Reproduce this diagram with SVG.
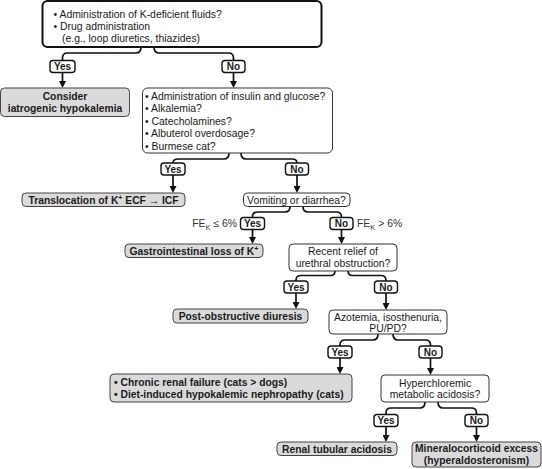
<svg xmlns="http://www.w3.org/2000/svg" width="542" height="469" viewBox="0 0 542 469">
<defs>
<style>
text{font-family:"Liberation Sans",Arial,Helvetica,sans-serif;font-size:10.4px;fill:#1a1a1a}
.b{font-weight:bold;font-size:10.3px}
.c{text-anchor:middle}
.dec{fill:#fff;stroke:#333;stroke-width:1}
.top{fill:#fff;stroke:#111;stroke-width:2}
.out{fill:#dadada;stroke:#444;stroke-width:1}
.lab{fill:#fff;stroke:#111;stroke-width:1.4}
.lt{font-weight:bold;font-size:10px;text-anchor:middle}
.br{fill:none;stroke:#111;stroke-width:1.7}
.ar{fill:none;stroke:#111;stroke-width:1.7;marker-end:url(#ah)}
</style>
<marker id="ah" viewBox="0 0 10 10" refX="6" refY="5" markerWidth="7" markerHeight="7" markerUnits="userSpaceOnUse" orient="auto">
<path d="M0,0 L10,5 L0,10 z" fill="#111"/>
</marker>
</defs>
<rect width="542" height="469" fill="#fff"/>

<g id="connectors">
<path class="br" d="M141,47 Q141,53 136,53 L67.5,53 Q62.5,53 62.5,58 L62.5,61.5"/>
<path class="br" d="M154,47 Q154,53 159,53 L228.5,53 Q233.5,53 233.5,58 L233.5,61.5"/>
<path class="ar" d="M62.5,72.5 L62.5,85.2"/>
<path class="ar" d="M233.5,72.5 L233.5,85.2"/>

<path class="br" d="M229,153 Q229,159 224,159 L178,159 Q173,159 173,163 L173,164"/>
<path class="br" d="M241,153 Q241,159 246,159 L292,159 Q297,159 297,163 L297,164"/>
<path class="ar" d="M173,175 L173,190.2"/>
<path class="ar" d="M297,175 L297,190.2"/>

<path class="br" d="M290,206.5 Q290,212 285,212 L257.5,212 Q252.5,212 252.5,217 L252.5,218.5"/>
<path class="br" d="M303,206.5 Q303,212 308,212 L336.5,212 Q341.5,212 341.5,217 L341.5,218.5"/>
<path class="ar" d="M252.5,229.5 L252.5,241.2"/>
<path class="ar" d="M341.5,229.5 L341.5,241.2"/>

<path class="br" d="M335,271 Q335,275.5 330.5,275.5 L301,275.5 Q296,275.5 296,280.5 L296,282"/>
<path class="br" d="M348,271 Q348,275.5 352.5,275.5 L381,275.5 Q386,275.5 386,280.5 L386,282"/>
<path class="ar" d="M296,293 L296,306.2"/>
<path class="ar" d="M386,293 L386,307.2"/>

<path class="br" d="M378,334 Q378,340 373,340 L345,340 Q340,340 340,345 L340,347"/>
<path class="br" d="M393,334 Q393,340 398,340 L425.5,340 Q430.5,340 430.5,345 L430.5,347"/>
<path class="ar" d="M340,358 L340,371.2"/>
<path class="ar" d="M430.5,358 L430.5,372.2"/>

<path class="br" d="M425,402 Q425,408 420,408 L391,408 Q386,408 386,413 L386,415.5"/>
<path class="br" d="M438,402 Q438,408 443,408 L471.5,408 Q476.5,408 476.5,413 L476.5,415.5"/>
<path class="ar" d="M386,426.5 L386,439.2"/>
<path class="ar" d="M476.5,426.5 L476.5,439.2"/>
</g>

<g id="n1">
<rect class="top" x="42.5" y="1" width="279" height="46" rx="5"/>
<text x="53.5" y="17.5">• Administration of K-deficient fluids?</text>
<text x="53.5" y="29.5">• Drug administration</text>
<text x="62" y="41.5">(e.g., loop diuretics, thiazides)</text>
</g>
<g id="y1"><rect class="lab" x="50" y="60.5" width="25" height="12" rx="3"/><text class="lt" x="62.5" y="70">Yes</text></g>
<g id="no1"><rect class="lab" x="222" y="60.5" width="23" height="12" rx="3"/><text class="lt" x="233.5" y="70">No</text></g>

<g id="n_consider">
<rect class="out" x="0.5" y="88" width="129" height="28.5" rx="4"/>
<text class="b c" x="65" y="99.5">Consider</text>
<text class="b c" x="65" y="111.5">iatrogenic hypokalemia</text>
</g>

<g id="n2">
<rect class="dec" x="142.5" y="88" width="190" height="65" rx="5"/>
<text x="145" y="99.5">• Administration of insulin and glucose?</text>
<text x="145" y="112">• Alkalemia?</text>
<text x="145" y="124.5">• Catecholamines?</text>
<text x="145" y="137">• Albuterol overdosage?</text>
<text x="145" y="149.5">• Burmese cat?</text>
</g>
<g id="y2"><rect class="lab" x="161" y="163" width="24" height="12" rx="3"/><text class="lt" x="173" y="172.5">Yes</text></g>
<g id="no2"><rect class="lab" x="285.5" y="163" width="23" height="12" rx="3"/><text class="lt" x="297" y="172.5">No</text></g>

<g id="n_trans">
<rect class="out" x="22" y="193" width="163" height="13.5" rx="4"/>
<text class="b c" x="103.5" y="203.5">Translocation of K<tspan font-size="7" dy="-4">+</tspan><tspan dy="4"> ECF → ICF</tspan></text>
</g>

<g id="n_vomit">
<rect class="dec" x="243.5" y="193" width="106.5" height="13.5" rx="4"/>
<text class="c" x="296.5" y="203.5">Vomiting or diarrhea?</text>
</g>
<g id="y3"><rect class="lab" x="240.5" y="217.5" width="24" height="12" rx="3"/><text class="lt" x="252.5" y="227">Yes</text></g>
<g id="no3"><rect class="lab" x="330" y="217.5" width="23" height="12" rx="3"/><text class="lt" x="341.5" y="227">No</text></g>
<g id="fe1"><text x="237" y="227" style="text-anchor:end;fill:#333">FE<tspan font-size="7.5" dy="2.5">K</tspan><tspan dy="-2.5"> ≤ 6%</tspan></text></g>
<g id="fe2"><text x="357" y="227" style="fill:#333">FE<tspan font-size="7.5" dy="2.5">K</tspan><tspan dy="-2.5"> &gt; 6%</tspan></text></g>

<g id="n_gi">
<rect class="out" x="125" y="244" width="138" height="13.5" rx="4"/>
<text class="b c" x="194" y="254.5">Gastrointestinal loss of K<tspan font-size="7" dy="-4">+</tspan></text>
</g>

<g id="n_recent">
<rect class="dec" x="289" y="244" width="108" height="27" rx="4"/>
<text class="c" x="343" y="255">Recent relief of</text>
<text class="c" x="343" y="267">urethral obstruction?</text>
</g>
<g id="y4"><rect class="lab" x="284" y="281" width="24" height="12" rx="3"/><text class="lt" x="296" y="290.5">Yes</text></g>
<g id="no4"><rect class="lab" x="374.5" y="281" width="23" height="12" rx="3"/><text class="lt" x="386" y="290.5">No</text></g>

<g id="n_post">
<rect class="out" x="173" y="309" width="135" height="14" rx="4"/>
<text class="b c" x="240.5" y="320">Post-obstructive diuresis</text>
</g>

<g id="n_azot">
<rect class="dec" x="329" y="310" width="118" height="24" rx="4"/>
<text class="c" x="388" y="320.5">Azotemia, isosthenuria,</text>
<text class="c" x="388" y="331.5">PU/PD?</text>
</g>
<g id="y5"><rect class="lab" x="328" y="346" width="24" height="12" rx="3"/><text class="lt" x="340" y="355.5">Yes</text></g>
<g id="no5"><rect class="lab" x="419" y="346" width="23" height="12" rx="3"/><text class="lt" x="430.5" y="355.5">No</text></g>

<g id="n_chronic">
<rect class="out" x="110" y="374" width="242" height="28" rx="4"/>
<text class="b" x="114" y="385.5">• Chronic renal failure (cats &gt; dogs)</text>
<text class="b" x="114" y="397.5">• Diet-induced hypokalemic nephropathy (cats)</text>
</g>

<g id="n_hyper">
<rect class="dec" x="381" y="375" width="108" height="27" rx="4"/>
<text class="c" x="435" y="386.5">Hyperchloremic</text>
<text class="c" x="435" y="398">metabolic acidosis?</text>
</g>
<g id="y6"><rect class="lab" x="374" y="414.5" width="24" height="12" rx="3"/><text class="lt" x="386" y="424">Yes</text></g>
<g id="no6"><rect class="lab" x="465" y="414.5" width="23" height="12" rx="3"/><text class="lt" x="476.5" y="424">No</text></g>

<g id="n_renal">
<rect class="out" x="277" y="442" width="120" height="13.5" rx="4"/>
<text class="b c" x="337" y="452.5">Renal tubular acidosis</text>
</g>

<g id="n_mineral">
<rect class="out" x="412" y="442" width="129" height="25" rx="4"/>
<text class="b c" x="476.5" y="452">Mineralocorticoid excess</text>
<text class="b c" x="476.5" y="463.5">(hyperaldosteronism)</text>
</g>
</svg>
